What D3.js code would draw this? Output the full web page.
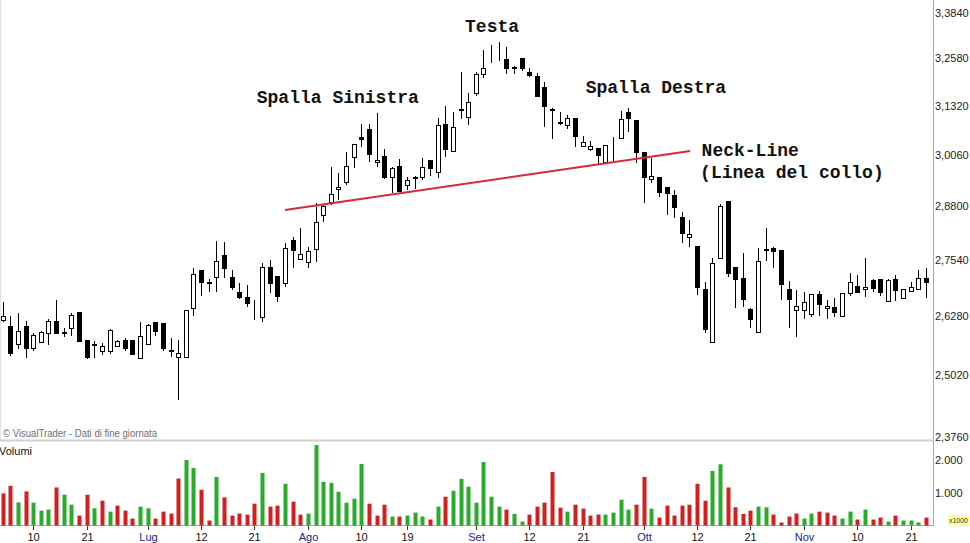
<!DOCTYPE html>
<html>
<head>
<meta charset="utf-8">
<script src="https://cdn.jsdelivr.net/npm/d3@7"></script>
<style>
  body { margin: 0; background: #fff; }
  svg { display: block; }
</style>
</head>
<body>
<svg id="chart"></svg>
<script>
// daily prices, one entry per trading session
var open = [2.620,2.607,2.568,2.607,2.559,2.572,2.591,2.617,2.594,2.602,2.637,2.576,2.567,2.553,2.553,2.564,2.576,2.576,2.538,2.568,
  2.615,2.613,2.555,2.540,2.540,2.646,2.731,2.704,2.715,2.766,2.715,2.682,2.670,2.642,2.626,2.738,2.718,2.702,2.800,2.756,
  2.749,2.779,2.859,2.891,2.922,2.939,3.001,3.052,3.072,2.989,3.004,2.951,2.979,2.932,2.951,2.951,2.994,2.964,3.085,3.016,
  3.124,3.103,3.166,3.216,3.270,3.270,3.257,3.235,3.259,3.222,3.211,3.181,3.124,3.089,3.082,3.100,3.029,3.021,3.024,2.989,
  3.050,3.049,3.116,3.095,3.014,2.946,2.951,2.927,2.907,2.855,2.807,2.786,2.688,2.572,2.759,2.893,2.738,2.713,2.644,2.594,
  2.779,2.782,2.777,2.688,2.642,2.642,2.633,2.677,2.646,2.648,2.628,2.679,2.695,2.688,2.709,2.711,2.662,2.711,2.668,2.684,
  2.688,2.713];
var high = [2.659,2.628,2.635,2.617,2.591,2.596,2.622,2.664,2.602,2.635,2.637,2.576,2.574,2.570,2.600,2.576,2.581,2.576,2.615,2.611,
  2.615,2.613,2.581,2.576,2.642,2.736,2.731,2.711,2.798,2.796,2.731,2.702,2.697,2.664,2.747,2.754,2.718,2.793,2.807,2.829,
  2.784,2.888,2.886,2.976,2.961,3.014,3.034,3.085,3.085,3.113,3.021,2.976,2.996,2.951,2.954,2.999,2.994,3.100,3.131,3.116,
  3.222,3.166,3.222,3.281,3.295,3.303,3.289,3.238,3.259,3.232,3.219,3.195,3.126,3.116,3.108,3.100,3.054,3.041,3.024,3.031,
  3.052,3.118,3.126,3.095,3.014,2.999,2.951,2.927,2.920,2.867,2.848,2.786,2.704,2.759,2.886,2.893,2.738,2.770,2.646,2.782,
  2.829,2.784,2.777,2.706,2.686,2.682,2.677,2.684,2.664,2.668,2.679,2.724,2.720,2.759,2.711,2.711,2.711,2.720,2.688,2.704,
  2.731,2.736];
var low = [2.615,2.542,2.557,2.538,2.553,2.570,2.566,2.589,2.583,2.585,2.574,2.536,2.538,2.544,2.546,2.561,2.553,2.546,2.538,2.566,
  2.585,2.553,2.540,2.451,2.540,2.628,2.673,2.682,2.682,2.713,2.686,2.666,2.648,2.620,2.615,2.679,2.659,2.693,2.736,2.756,
  2.736,2.749,2.843,2.883,2.895,2.932,2.974,3.026,2.989,2.976,2.946,2.912,2.915,2.920,2.922,2.944,2.954,2.949,3.001,3.016,
  3.098,3.082,3.158,3.206,3.246,3.251,3.216,3.216,3.224,3.208,3.158,3.077,3.046,3.082,3.072,3.026,3.026,3.016,2.981,2.986,
  2.991,3.049,3.064,2.986,2.888,2.937,2.903,2.859,2.852,2.793,2.784,2.675,2.591,2.572,2.759,2.715,2.646,2.648,2.602,2.594,
  2.752,2.736,2.664,2.602,2.583,2.622,2.626,2.628,2.622,2.626,2.628,2.673,2.682,2.670,2.682,2.673,2.662,2.662,2.668,2.682,
  2.688,2.668];
var close = [2.628,2.549,2.596,2.559,2.587,2.594,2.617,2.591,2.591,2.631,2.574,2.540,2.566,2.564,2.598,2.574,2.559,2.546,2.585,2.609,
  2.596,2.559,2.553,2.549,2.642,2.722,2.704,2.702,2.752,2.736,2.693,2.670,2.657,2.641,2.738,2.702,2.673,2.782,2.777,2.768,
  2.775,2.843,2.881,2.910,2.927,2.979,3.034,3.046,3.009,2.994,2.951,2.974,2.917,2.944,2.950,2.976,2.974,3.082,3.021,3.077,
  3.122,3.142,3.216,3.232,3.269,3.269,3.232,3.232,3.232,3.214,3.158,3.131,3.122,3.087,3.100,3.054,3.039,3.029,3.006,3.031,
  3.049,3.098,3.100,3.014,2.951,2.954,2.915,2.913,2.878,2.817,2.814,2.693,2.600,2.747,2.881,2.724,2.711,2.666,2.622,2.752,
  2.778,2.775,2.700,2.666,2.650,2.659,2.677,2.655,2.650,2.637,2.679,2.704,2.682,2.693,2.691,2.682,2.709,2.686,2.688,2.693,
  2.713,2.704];
var prevClose = 2.640; // close of the session before the first bar
// volumes, x1000
var volume = [980,1212,707,1040,697,455,485,1162,939,636,303,939,525,758,424,606,455,212,576,525,
  212,424,364,1434,2000,1758,1091,152,1485,859,303,364,333,667,1606,576,606,1273,727,333,
  364,2455,1333,1303,1030,697,818,1879,667,303,636,273,273,303,394,273,182,576,879,1061,
  1424,1182,697,1939,879,576,485,354,121,333,576,697,1636,545,424,636,515,303,333,333,
  394,788,485,636,1485,515,242,606,303,606,636,1273,758,1667,1869,1162,556,354,455,576,
  556,333,91,273,364,212,364,424,394,303,212,424,182,485,182,242,121,303,152,152,
  91,242];

var tickIdx = [4,11,19,26,33,40,47,53,62,69,76,84,91,98,105,112,119];
var tickLabels = ["10","21","Lug","12","21","Ago","10","19","Set","12","21","Ott","12","21","Nov","10","21"];
var months = ["Lug","Ago","Set","Ott","Nov"];

var priceTicks = [2.376,2.502,2.628,2.754,2.880,3.006,3.132,3.258,3.384];
var volTicks = [1000,2000];

// neck-line endpoints: [bar index, price]
var neckFrom = [37.0, 2.871];
var neckTo = [90.1, 3.016];

var notes = ["Testa","Spalla Sinistra","Spalla Destra","Neck-Line","(Linea del collo)"];
var noteIdx = [60.6, 33.3, 76.4, 91.6, 91.4];
var notePrice = [3.332, 3.139, 3.165, 3.004, 2.950];

var width = 970, height = 543;
var axisX = 933.5;

var svg = d3.select("#chart")
    .attr("width", width)
    .attr("height", height)
    .style("font-family", "'Liberation Sans', Arial, sans-serif");

var n = close.length;
var x = d3.scaleLinear().domain([0, n - 1]).range([2.7, 2.7 + 7.63 * (n - 1)]);
var y = d3.scaleLog().domain([2.376, 3.384]).range([437, 13]);
var yv = d3.scaleLinear().domain([0, 2000]).range([525.5, 460]);

var fmtPrice = function(v){ return d3.format(".4f")(v).replace(".", ","); };
var fmtVol = function(v){ return d3.format(",")(v).replace(",", "."); };

// frame
svg.append("line").attr("x1", 0.5).attr("x2", 0.5).attr("y1", 0).attr("y2", 440)
    .attr("stroke", "#e4e4e4");
svg.append("line").attr("x1", axisX).attr("x2", axisX).attr("y1", 0).attr("y2", 526)
    .attr("stroke", "#a8a8a8");
svg.append("rect").attr("x", 0).attr("y", 439.5).attr("width", axisX).attr("height", 2)
    .attr("fill", "#cfcfcf");
svg.append("line").attr("x1", 0).attr("x2", axisX).attr("y1", 525.5).attr("y2", 525.5)
    .attr("stroke", "#a8a8a8");

// price axis labels
svg.selectAll(".plab")
  .data(priceTicks)
  .enter()
  .append("text")
    .attr("x", 935)
    .attr("y", function(d){ return y(d); })
    .attr("dy", "0.35em")
    .style("font-size", "11px")
    .attr("fill", "#222")
    .text(fmtPrice);

// volume axis labels
svg.selectAll(".vlab")
  .data(volTicks)
  .enter()
  .append("text")
    .attr("x", 935)
    .attr("y", function(d){ return yv(d); })
    .attr("dy", "0.35em")
    .style("font-size", "11px")
    .attr("fill", "#222")
    .text(fmtVol);

svg.append("rect").attr("x", 948).attr("y", 515).attr("width", 22).attr("height", 11)
    .attr("fill", "#ffffa0");
svg.append("text").attr("x", 949).attr("y", 520.5).attr("dy", "0.35em")
    .style("font-size", "7px").attr("fill", "#333")
    .attr("textLength", 19).attr("lengthAdjust", "spacingAndGlyphs")
    .text("x1000");

// date ticks
var dates = svg.selectAll(".tick")
  .data(tickIdx)
  .enter()
  .append("g");
dates.append("line")
    .attr("x1", function(d){ return Math.round(x(d)) + 0.5; })
    .attr("x2", function(d){ return Math.round(x(d)) + 0.5; })
    .attr("y1", 526).attr("y2", 530)
    .attr("stroke", "#333");
dates.append("text")
    .attr("x", function(d){ return Math.round(x(d)) + 0.5; })
    .attr("y", 537)
    .attr("dy", "0.35em")
    .style("text-anchor", "middle")
    .style("font-size", "11px")
    .attr("fill", function(d, i){ return months.indexOf(tickLabels[i]) >= 0 ? "#23238c" : "#111"; })
    .text(function(d, i){ return tickLabels[i]; });

svg.append("text").attr("x", 3).attr("y", 433).attr("dy", "0.35em")
    .style("font-size", "10px").attr("fill", "#6e6e6e")
    .attr("textLength", 154).attr("lengthAdjust", "spacingAndGlyphs")
    .text("\u00A9 VisualTrader - Dati di fine giornata");
svg.append("text").attr("x", -1).attr("y", 451).attr("dy", "0.35em")
    .style("font-size", "11px").attr("fill", "#111").text("Volumi");

// volume bars, green when the close is not below the previous close
svg.selectAll(".vol")
  .data(volume)
  .enter()
  .append("rect")
    .attr("x", function(d, i){ return Math.round(x(i)) - 1.5; })
    .attr("y", function(d){ return yv(d); })
    .attr("width", 4)
    .attr("height", function(d){ return yv(0) - yv(d); })
    .attr("fill", function(d, i){
      var prev = i === 0 ? prevClose : close[i - 1];
      return close[i] >= prev ? "#2bab2b" : "#d21f1f";
    });

// candles
var candles = svg.selectAll(".candle")
  .data(d3.range(n))
  .enter()
  .append("g");
candles.append("line")
    .attr("x1", function(i){ return Math.round(x(i)) + 0.5; })
    .attr("x2", function(i){ return Math.round(x(i)) + 0.5; })
    .attr("y1", function(i){ return Math.round(y(high[i])); })
    .attr("y2", function(i){ return Math.round(y(low[i])); })
    .attr("stroke", "#000");
candles.append("rect")
    .attr("x", function(i){ return Math.round(x(i)) - 1.5; })
    .attr("y", function(i){ return Math.round(y(Math.max(open[i], close[i]))) + 0.5; })
    .attr("width", 4)
    .attr("height", function(i){
      return Math.max(0, Math.round(y(Math.min(open[i], close[i]))) - Math.round(y(Math.max(open[i], close[i]))));
    })
    .attr("fill", function(i){ return close[i] > open[i] ? "#fff" : "#000"; })
    .attr("stroke", "#000");

// neck-line
svg.append("line")
    .attr("x1", x(neckFrom[0])).attr("y1", y(neckFrom[1]))
    .attr("x2", x(neckTo[0])).attr("y2", y(neckTo[1]))
    .attr("stroke", "#d62a3c")
    .attr("stroke-width", 2);

// pattern labels
svg.selectAll(".note")
  .data(notes)
  .enter()
  .append("text")
    .attr("x", function(d, i){ return x(noteIdx[i]); })
    .attr("y", function(d, i){ return y(notePrice[i]); })
    .style("font-family", "'Liberation Mono', 'Courier New', monospace")
    .style("font-weight", "bold")
    .style("font-size", "18px")
    .attr("fill", "#111")
    .text(function(d){ return d; });
</script>
</body>
</html>
